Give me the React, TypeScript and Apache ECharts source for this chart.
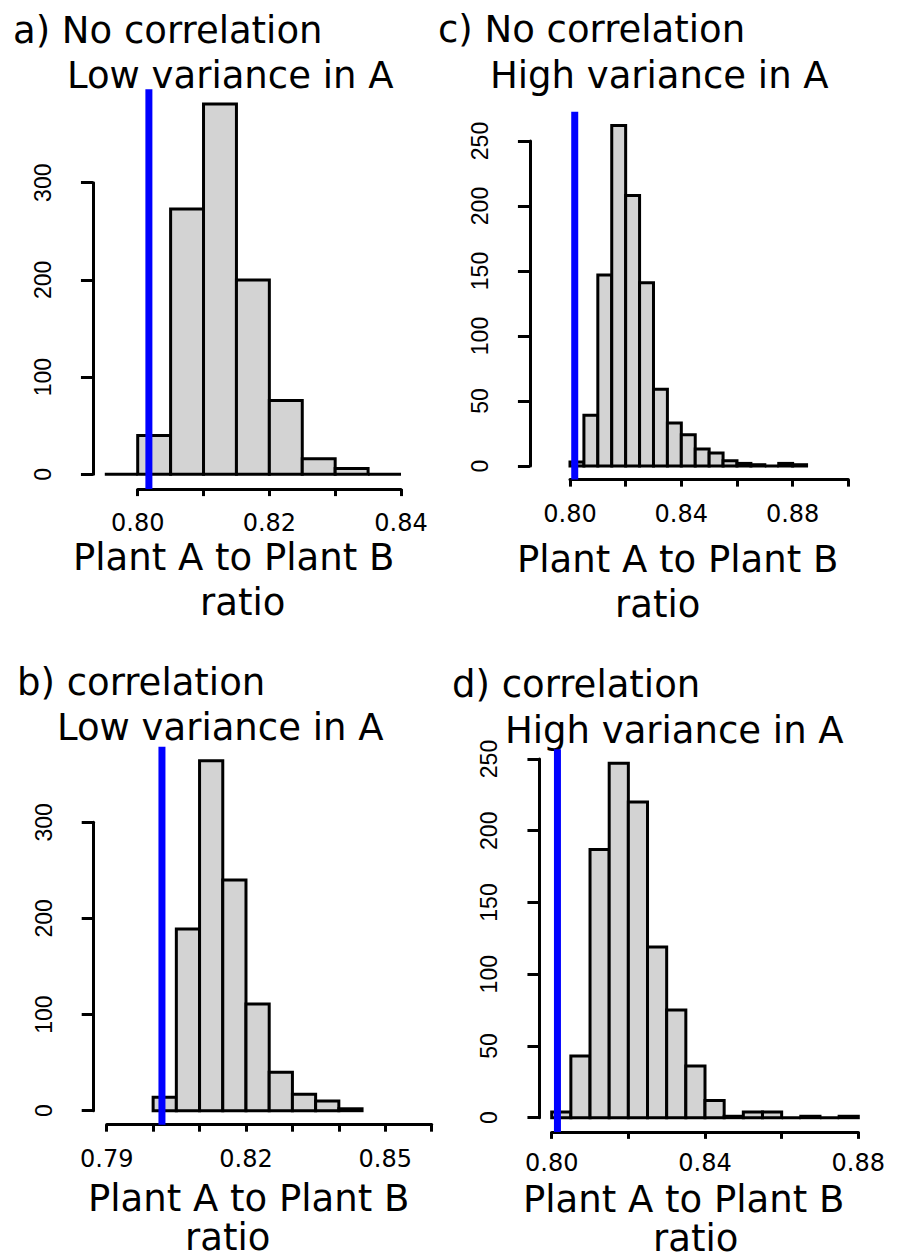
import React, { useEffect, useRef } from "react";
import * as echarts from "echarts";

// ---------- data ----------
const binWidth = 0.005;

// panel a) No correlation, low variance in A
const aBinStart = 0.795;
const aCounts = [0, 40, 273, 381, 200, 76, 16, 6, 0];
const aXlim = [0.795, 0.84];
const aXLabels = ["0.80", "0.82", "0.84"];

// panel b) correlation, low variance in A
const bBinStart = 0.8;
const bCounts = [14, 189, 364, 240, 111, 40, 17, 10, 2];
const bXlim = [0.79, 0.86];
const bXLabels = ["0.79", "0.82", "0.85"];

// panel c) No correlation, high variance in A
const cBinStart = 0.8;
const cCounts = [3, 39, 147, 262, 208, 141, 59, 33, 24, 13, 10, 4, 2, 1, 0, 2, 1];
const cXlim = [0.79, 0.9];
const cXLabels = ["0.80", "0.84", "0.88"];

// panel d) correlation, high variance in A
const dBinStart = 0.8;
const dCounts = [4, 43, 187, 247, 220, 119, 75, 36, 12, 1, 4, 4, 0, 1, 0, 1];
const dXlim = [0.8, 0.88];
const dXLabels = ["0.80", "0.84", "0.88"];

// observed ratio (blue line) per panel a, b, c, d
const blueLineX = [0.8017, 0.8019, 0.8017, 0.8015];

// axis tick ranges
const xTickMin = [0.8, 0.79, 0.8, 0.8];
const xTickMax = [0.84, 0.86, 0.9, 0.88];
const xTickStep = [0.01, 0.01, 0.02, 0.02];
const yTickMax = [300, 300, 250, 250];
const yTickStep = [100, 100, 50, 50];

const titleLine1 = ["a) No correlation", "b) correlation", "c) No correlation", "d) correlation"];
const titleLine2 = ["Low variance in A", "Low variance in A", "High variance in A", "High variance in A"];
const xName1 = "Plant A to Plant B";
const xName2 = "ratio";

// ---------- layout (pixels) ----------
const gridBoxes = [
  { left: 137.7, top: 182.7, width: 263.3, height: 291.6 },
  { left: 106.7, top: 822.3, width: 325, height: 288.4 },
  { left: 570, top: 141, width: 278.3, height: 325 },
  { left: 551.7, top: 759, width: 306.6, height: 358.7 },
];
const xLabelMargin = [25, 25, 25, 22];
const titlePos = [
  { x1: 13, y1: 30, x2: 67, y2: 75 },
  { x1: 17, y1: 682, x2: 57, y2: 727 },
  { x1: 438, y1: 29, x2: 490, y2: 75 },
  { x1: 452, y1: 684, x2: 505, y2: 730 },
];
const xNamePos = [
  { x1: 73, y1: 557, x2: 200, y2: 602 },
  { x1: 88, y1: 1198, x2: 185, y2: 1237 },
  { x1: 517, y1: 559, x2: 615, y2: 604 },
  { x1: 523, y1: 1199, x2: 653, y2: 1238 },
];

const panelsData = [
  { start: aBinStart, counts: aCounts, xlim: aXlim, labels: aXLabels },
  { start: bBinStart, counts: bCounts, xlim: bXlim, labels: bXLabels },
  { start: cBinStart, counts: cCounts, xlim: cXlim, labels: cXLabels },
  { start: dBinStart, counts: dCounts, xlim: dXlim, labels: dXLabels },
];

function buildOption() {
  const grid: any[] = [];
  const xAxis: any[] = [];
  const yAxis: any[] = [];
  const series: any[] = [];
  const graphic: any[] = [];

  panelsData.forEach((p, i) => {
    const g = gridBoxes[i];
    const yMax = Math.max(...p.counts);
    const pxPerX = g.width / (xTickMax[i] - xTickMin[i]);
    const pxPerY = g.height / yTickMax[i];
    const usrLeft = p.xlim[0] - 0.04 * (p.xlim[1] - p.xlim[0]);
    const yOffset = (xTickMin[i] - usrLeft) * pxPerX;
    const xOffset = 0.04 * yMax * pxPerY;

    grid.push({ left: g.left, top: g.top, width: g.width, height: g.height, containLabel: false });

    xAxis.push({
      gridIndex: i,
      type: "value",
      position: "bottom",
      min: xTickMin[i],
      max: xTickMax[i],
      interval: xTickStep[i],
      offset: xOffset,
      axisLine: { show: true, onZero: false, lineStyle: { color: "#000", width: 3 } },
      axisTick: { show: true, length: 7, lineStyle: { color: "#000", width: 3 } },
      splitLine: { show: false },
      axisLabel: {
        show: true,
        showMinLabel: true,
        showMaxLabel: true,
        margin: xLabelMargin[i],
        color: "#000",
        fontFamily: "DejaVu Sans",
        fontSize: 24,
        lineHeight: 18,
        formatter: (v: number) => {
          const s = v.toFixed(2);
          return p.labels.includes(s) ? s : "";
        },
      },
    });

    yAxis.push({
      gridIndex: i,
      type: "value",
      position: "left",
      min: 0,
      max: yTickMax[i],
      interval: yTickStep[i],
      offset: yOffset,
      axisLine: { show: true, onZero: false, lineStyle: { color: "#000", width: 3 } },
      axisTick: { show: true, length: 12, lineStyle: { color: "#000", width: 3 } },
      splitLine: { show: false },
      axisLabel: {
        show: true,
        showMinLabel: true,
        showMaxLabel: true,
        rotate: 90,
        margin: 40,
        color: "#000",
        fontFamily: "Liberation Sans",
        fontSize: 23,
        lineHeight: 20,
      },
    });

    const bins = p.counts.map((n, k) => [p.start + k * binWidth, p.start + (k + 1) * binWidth, n]);

    series.push({
      type: "custom",
      xAxisIndex: i,
      yAxisIndex: i,
      clip: false,
      encode: { x: [0, 1], y: 2 },
      data: bins,
      renderItem: (params: any, api: any) => {
        const p0 = api.coord([api.value(0), api.value(2)]);
        const p1 = api.coord([api.value(1), 0]);
        return {
          type: "rect",
          shape: { x: p0[0], y: p0[1], width: p1[0] - p0[0], height: p1[1] - p0[1] },
          style: { fill: "#d3d3d3", stroke: "#000", lineWidth: 3 },
        };
      },
    });

    series.push({
      type: "custom",
      xAxisIndex: i,
      yAxisIndex: i,
      clip: false,
      encode: { x: 0, y: [1, 2] },
      data: [[blueLineX[i], -0.04 * yMax, 1.04 * yMax]],
      renderItem: (params: any, api: any) => {
        const top = api.coord([api.value(0), api.value(2)]);
        const bot = api.coord([api.value(0), api.value(1)]);
        return {
          type: "line",
          shape: { x1: top[0], y1: top[1], x2: bot[0], y2: bot[1] },
          style: { stroke: "#0000ff", lineWidth: 7 },
        };
      },
    });

    const tp = titlePos[i];
    const np = xNamePos[i];
    const textStyle = {
      fontFamily: "DejaVu Sans",
      fontSize: 37,
      lineHeight: 32,
      fill: "#000",
      verticalAlign: "middle",
      align: "left",
    };
    graphic.push({ type: "text", x: tp.x1, y: tp.y1, style: { ...textStyle, text: titleLine1[i] } });
    graphic.push({ type: "text", x: tp.x2, y: tp.y2, style: { ...textStyle, text: titleLine2[i] } });
    graphic.push({ type: "text", x: np.x1, y: np.y1, style: { ...textStyle, text: xName1 } });
    graphic.push({ type: "text", x: np.x2, y: np.y2, style: { ...textStyle, text: xName2 } });
  });

  return {
    animation: false,
    backgroundColor: "#fff",
    grid,
    xAxis,
    yAxis,
    series,
    graphic,
  };
}

export default function App() {
  const ref = useRef<HTMLDivElement>(null);
  useEffect(() => {
    if (!ref.current) return;
    const chart = echarts.init(ref.current, null, { renderer: "svg" });
    chart.setOption(buildOption() as any);
    return () => chart.dispose();
  }, []);
  return (
    <div
      ref={ref}
      style={{ position: "absolute", left: 0, top: 0, width: 902, height: 1260, background: "#fff" }}
    />
  );
}
